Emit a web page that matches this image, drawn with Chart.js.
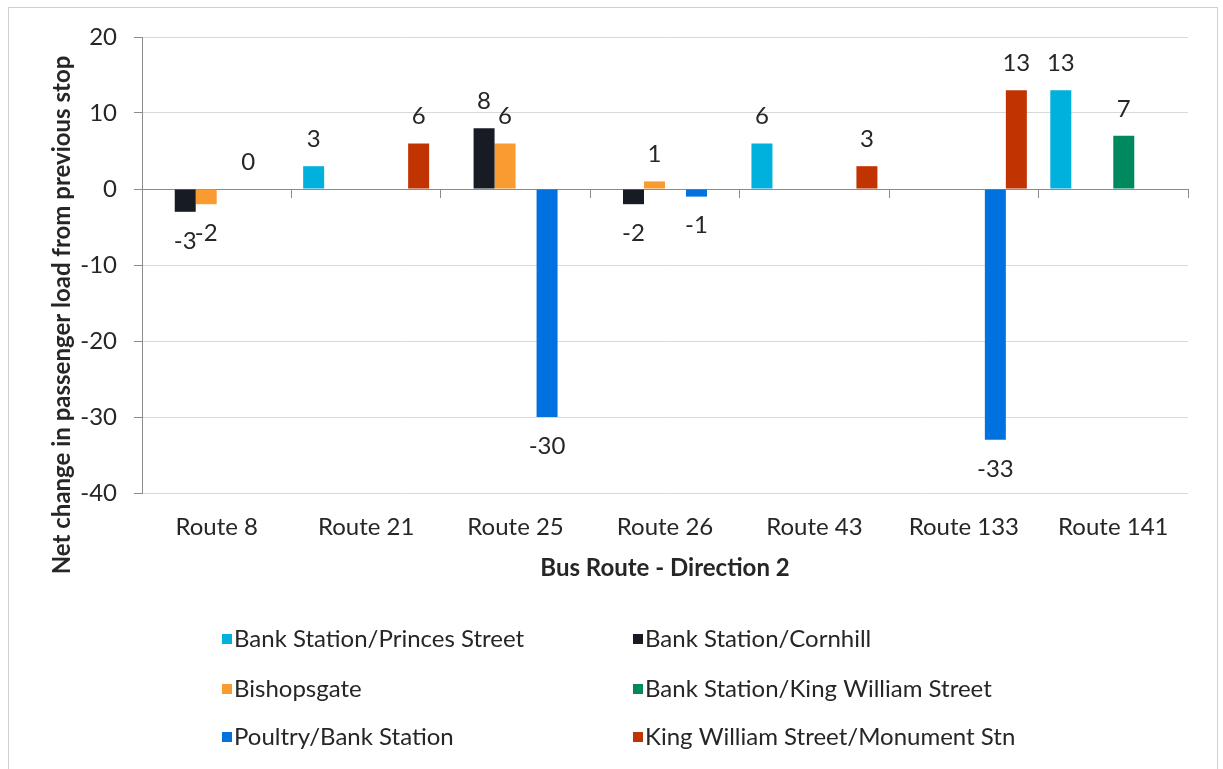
<!DOCTYPE html>
<html>
<head>
<meta charset="utf-8">
<title>Bus Route - Direction 2</title>
<script src="https://cdn.jsdelivr.net/npm/chart.js@4.4.1/dist/chart.umd.min.js"></script>
<style>
  body{margin:0;background:#fff;}
  #wrap{position:relative;width:1223px;height:769px;}
</style>
</head>
<body>
<div id="wrap"><canvas id="myChart" width="1223" height="769"></canvas></div>
<script>
// ***********data***********
const routes=['Route 8','Route 21','Route 25','Route 26','Route 43','Route 133','Route 141'];
const seriesNames=['Bank Station/Princes Street','Bank Station/Cornhill','Bishopsgate','Bank Station/King William Street','Poultry/Bank Station','King William Street/Monument Stn'];
const seriesColors=['#00B1DE','#171C24','#F99B30','#00895E','#0072E0','#C13300'];
const princesStreet=[null,3,null,null,6,null,13];
const cornhill=[-3,null,8,-2,null,null,null];
const bishopsgate=[-2,null,6,1,null,null,null];
const kingWilliam=[null,null,null,null,null,null,7];
const poultry=[0,null,-30,-1,null,-33,null];
const monument=[null,6,null,null,3,13,null];
const yTicks=[-40,-30,-20,-10,0,10,20];
const xTitle='Bus Route - Direction 2';
const yTitle='Net change in passenger load from previous stop';

const FONT='Lato, Carlito, Calibri, sans-serif';
const TEXT='#262626';
const allSeries=[princesStreet,cornhill,bishopsgate,kingWilliam,poultry,monument];

// ********extra drawing: frame, titles, legend, value labels******
const extras={
  id:'extras',
  beforeDraw(chart){
    const c=chart.ctx;
    c.save();
    c.strokeStyle='#D0D0D0';
    c.lineWidth=1;
    c.strokeRect(8.5,7.5,1209,800);
    c.restore();
  },
  afterDatasetsDraw(chart){
    const c=chart.ctx;
    c.save();
    c.font='24px '+FONT;
    c.fillStyle=TEXT;
    c.textAlign='center';
    c.textBaseline='middle';
    chart.data.datasets.forEach((ds,i)=>{
      const meta=chart.getDatasetMeta(i);
      meta.data.forEach((bar,j)=>{
        const v=ds.data[j];
        if(v===null||v===undefined)return;
        const y=v>=0?bar.y-27:bar.y+29;
        c.fillText(String(v),bar.x,y);
      });
    });
    c.restore();
  },
  afterDraw(chart){
    const c=chart.ctx;
    const area=chart.chartArea;
    c.save();
    c.fillStyle=TEXT;
    // axis titles
    c.font='bold 24px '+FONT;
    c.textAlign='center';
    c.textBaseline='middle';
    c.fillText(xTitle,(area.left+area.right)/2,568);
    c.translate(62,315);
    c.rotate(-Math.PI/2);
    c.fillText(yTitle,0,0);
    c.setTransform(1,0,0,1,0,0);
    // legend, two columns
    c.font='24px '+FONT;
    c.textAlign='left';
    const colX=[222,633];
    const rowY=[639,689,737];
    chart.data.datasets.forEach((ds,i)=>{
      const x=colX[i%2];
      const y=rowY[Math.floor(i/2)];
      c.fillStyle=ds.backgroundColor;
      c.fillRect(x,y-5,10,10);
      c.fillStyle=TEXT;
      c.fillText(ds.label,x+12,y);
    });
    c.restore();
  }
};

const ctx=document.getElementById('myChart');
new Chart(ctx,{
  type:'bar',
  data:{
    labels:routes,
    datasets:seriesNames.map((name,i)=>({
      label:name,
      data:allSeries[i],
      backgroundColor:seriesColors[i],
      borderWidth:0,
      barPercentage:1,
      categoryPercentage:0.843
    }))
  },
  options:{
    responsive:false,
    animation:false,
    layout:{padding:{top:37,right:35,left:0,bottom:0}},
    plugins:{legend:{display:false},tooltip:{enabled:false}},
    scales:{
      x:{
        type:'category',
        position:'bottom',
        grid:{display:false,drawTicks:false},
        border:{display:false},
        ticks:{color:TEXT,font:{family:FONT,size:24},padding:20,maxRotation:0},
        afterFit(scale){scale.height=276;}
      },
      x2:{
        type:'category',
        axis:'x',
        position:{y:0},
        offset:true,
        grid:{drawOnChartArea:false,drawTicks:true,tickLength:8,color:'#8C8C8C',offset:true},
        border:{color:'#8C8C8C'},
        ticks:{display:false}
      },
      y:{
        min:-40,
        max:20,
        afterBuildTicks(scale){scale.ticks=yTicks.map(v=>({value:v}));},
        grid:{
          color:c=>c.tick&&c.tick.value===0?'#8C8C8C':'#D9D9D9',
          tickColor:'#8C8C8C',
          tickLength:8
        },
        border:{color:'#8C8C8C'},
        ticks:{color:TEXT,font:{family:FONT,size:24},padding:17},
        afterFit(scale){scale.width=142;}
      }
    }
  },
  plugins:[extras]
});
</script>
</body>
</html>
